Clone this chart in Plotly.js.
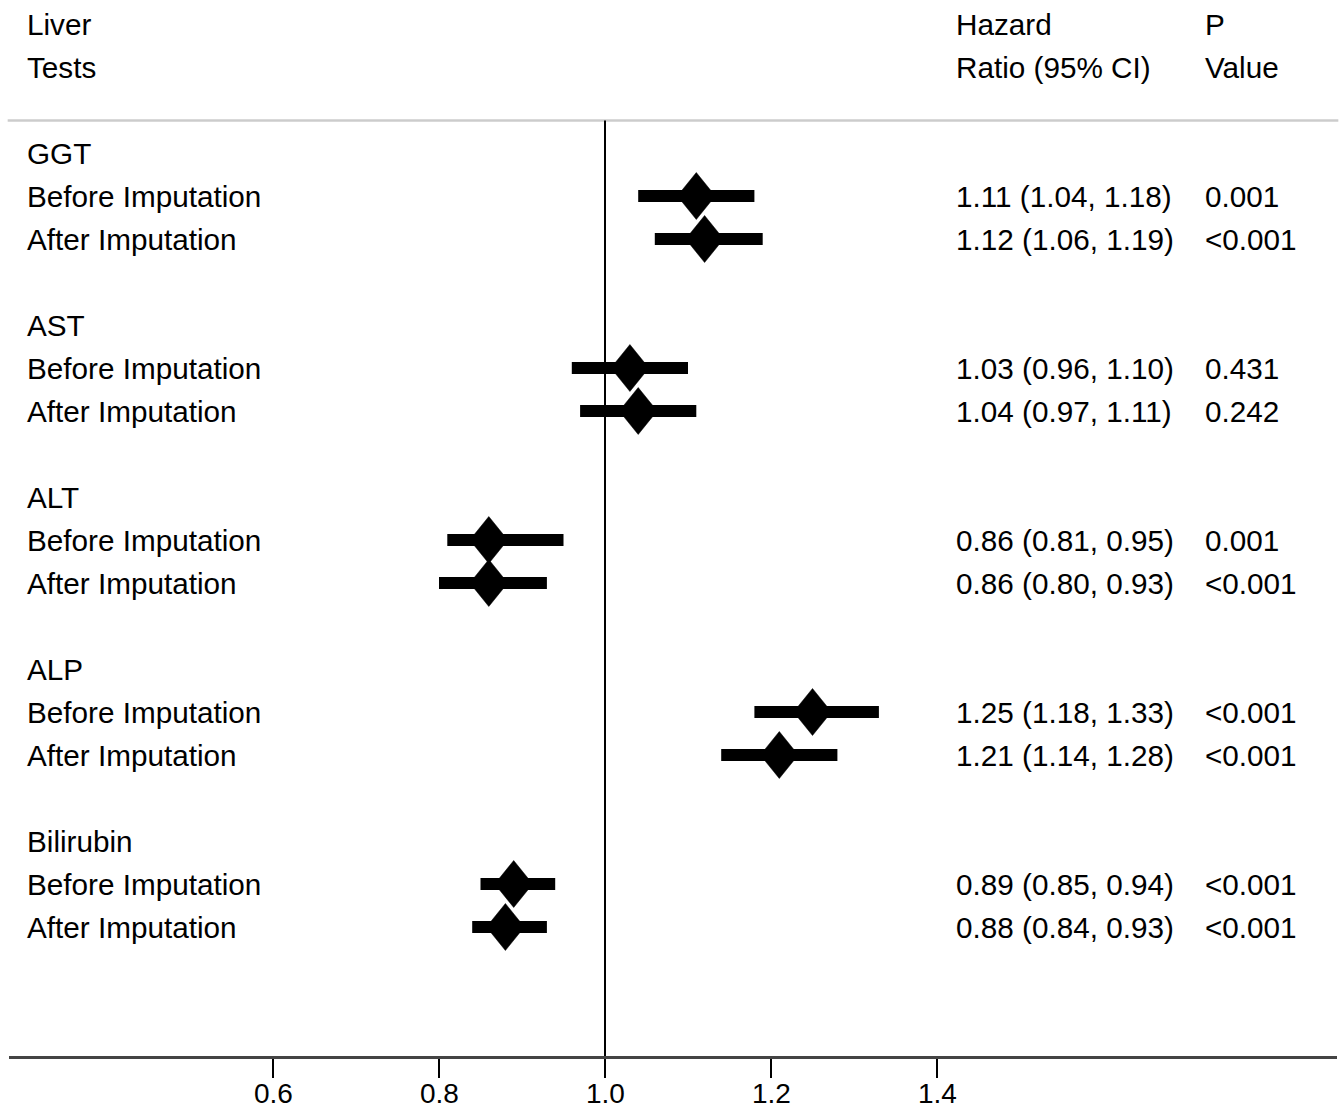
<!DOCTYPE html>
<html>
<head>
<meta charset="utf-8">
<script src="https://cdn.plot.ly/plotly-3.0.1.min.js"></script>
<style>
  html, body { margin: 0; padding: 0; background: #fff; }
  #chart { width: 1340px; height: 1108px; }
</style>
</head>
<body>
<div id="chart"></div>
<script>
// ---- data ----
const tests = ['GGT', 'AST', 'ALT', 'ALP', 'Bilirubin'];
const stageLabels = ['Before Imputation', 'After Imputation'];

const hrBefore = [1.11, 1.03, 0.86, 1.25, 0.89];
const loBefore = [1.04, 0.96, 0.81, 1.18, 0.85];
const hiBefore = [1.18, 1.10, 0.95, 1.33, 0.94];
const pBefore  = ['0.001', '0.431', '0.001', '<0.001', '<0.001'];

const hrAfter = [1.12, 1.04, 0.86, 1.21, 0.88];
const loAfter = [1.06, 0.97, 0.80, 1.14, 0.84];
const hiAfter = [1.19, 1.11, 0.93, 1.28, 0.93];
const pAfter  = ['<0.001', '0.242', '<0.001', '<0.001', '<0.001'];

const tickVals = [0.6, 0.8, 1.0, 1.2, 1.4];
const tickText = ['0.6', '0.8', '1.0', '1.2', '1.4'];

const headerCol1 = ['Liver', 'Tests'];
const headerCol2 = ['Hazard', 'Ratio (95% CI)'];
const headerCol3 = ['P', 'Value'];

// ---- layout constants (styling only) ----
const W = 1340, H = 1108;
const mL = 9, mR = 3, mT = 0, mB = 52;
const plotW = W - mL - mR;
const plotH = H - mT - mB;
const pxPerUnit = 830;          // pixels per 1.0 hazard-ratio unit
const xRef = 1.0, xRefPx = 605; // page pixel of HR = 1.0
const rowPx = 43, row0Px = 24;  // row spacing and page y of row 0
const xMin = xRef - (xRefPx - mL) / pxPerUnit;
const xMax = xRef + (W - mR - xRefPx) / pxPerUnit;
const yTop = -(row0Px - mT) / rowPx;
const yBot = (H - mB - row0Px) / rowPx;
const headerLineRow = (120.5 - row0Px) / rowPx;

const FONT = 'Liberation Sans, Arial, Helvetica, sans-serif';
const FS = 29.7;

function paperX(px) { return (px - mL) / plotW; }
const col1X = paperX(25);
const col2X = paperX(954);
const col3X = paperX(1203);

// rows: group g -> title row 3+4g, before 4+4g, after 5+4g
const rowsTitle = tests.map((_, g) => 3 + 4 * g);
const rowsBefore = tests.map((_, g) => 4 + 4 * g);
const rowsAfter = tests.map((_, g) => 5 + 4 * g);

// combine
const allHR = hrBefore.concat(hrAfter);
const allLo = loBefore.concat(loAfter);
const allHi = hiBefore.concat(hiAfter);
const allRow = rowsBefore.concat(rowsAfter);

// CI bars
const barX = [], barY = [];
allHR.forEach((_, i) => {
  barX.push(allLo[i], allHi[i], null);
  barY.push(allRow[i], allRow[i], null);
});

// diamonds (half sizes in axis units, styling)
const dHalfX = 19 / pxPerUnit;
const dHalfY = 23.5 / rowPx;
const dX = [], dY = [];
allHR.forEach((h, i) => {
  const r = allRow[i];
  dX.push(h - dHalfX, h, h + dHalfX, h, h - dHalfX, null);
  dY.push(r, r - dHalfY, r, r + dHalfY, r, null);
});

const traces = [
  {
    type: 'scatter', mode: 'lines', x: barX, y: barY,
    line: { color: '#000', width: 12 }, hoverinfo: 'skip', showlegend: false
  },
  {
    type: 'scatter', mode: 'lines', x: dX, y: dY, fill: 'toself',
    fillcolor: '#000', line: { color: '#000', width: 0.5 }, hoverinfo: 'skip', showlegend: false
  }
];

// annotations
const ann = [];
function addText(x, row, text) {
  ann.push({
    xref: 'paper', yref: 'y', x: x, y: row, text: text,
    xanchor: 'left', yanchor: 'middle', showarrow: false,
    font: { family: FONT, size: FS, color: '#000' }
  });
}
headerCol1.forEach((t, i) => addText(col1X, i, t));
headerCol2.forEach((t, i) => addText(col2X, i, t));
headerCol3.forEach((t, i) => addText(col3X, i, t));

function ciText(h, lo, hi) {
  return h.toFixed(2) + ' (' + lo.toFixed(2) + ', ' + hi.toFixed(2) + ')';
}
tests.forEach((t, g) => {
  addText(col1X, rowsTitle[g], t);
  addText(col1X, rowsBefore[g], stageLabels[0]);
  addText(col1X, rowsAfter[g], stageLabels[1]);
  addText(col2X, rowsBefore[g], ciText(hrBefore[g], loBefore[g], hiBefore[g]));
  addText(col2X, rowsAfter[g], ciText(hrAfter[g], loAfter[g], hiAfter[g]));
  addText(col3X, rowsBefore[g], pBefore[g]);
  addText(col3X, rowsAfter[g], pAfter[g]);
});

// x tick labels drawn as annotations placed on the x axis scale
const tickLabelY = -(1093 - (H - mB)) / plotH;
tickVals.forEach((v, i) => {
  ann.push({
    xref: 'x', yref: 'paper', x: v, y: tickLabelY, text: tickText[i],
    xanchor: 'center', yanchor: 'middle', showarrow: false,
    font: { family: FONT, size: 28, color: '#000' }
  });
});

const shapes = [
  { type: 'line', xref: 'paper', yref: 'y', x0: -0.001, x1: 1.001, y0: headerLineRow, y1: headerLineRow,
    line: { color: '#cccccc', width: 2.5 }, layer: 'below' },
  { type: 'line', xref: 'x', yref: 'y', x0: xRef, x1: xRef, y0: headerLineRow, y1: yBot,
    line: { color: '#000', width: 2 }, layer: 'below' }
];

const layout = {
  width: W, height: H,
  margin: { l: mL, r: mR, t: mT, b: mB, pad: 0 },
  paper_bgcolor: '#fff', plot_bgcolor: '#fff',
  showlegend: false,
  xaxis: {
    range: [xMin, xMax], autorange: false, fixedrange: true,
    showgrid: false, zeroline: false,
    showline: true, linecolor: '#444', linewidth: 2.5,
    ticks: 'outside', ticklen: 19, tickwidth: 2, tickcolor: '#000',
    tickvals: tickVals, showticklabels: false
  },
  yaxis: {
    range: [yBot, yTop], autorange: false, fixedrange: true,
    visible: false, showgrid: false, zeroline: false
  },
  annotations: ann,
  shapes: shapes
};

Plotly.newPlot('chart', traces, layout, { displayModeBar: false, staticPlot: true });
</script>
</body>
</html>
